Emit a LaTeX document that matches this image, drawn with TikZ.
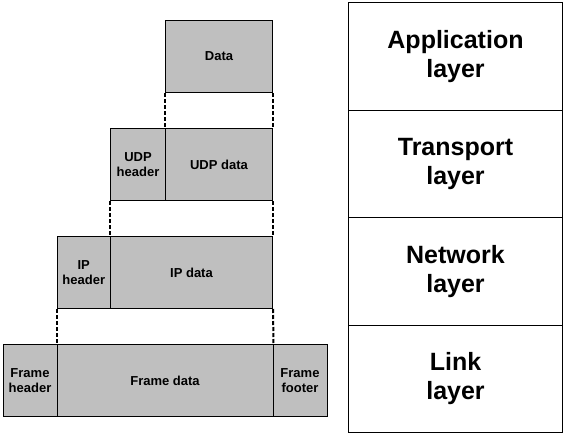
\documentclass[tikz,border=0pt]{standalone}
\usepackage{fontspec}
\setmainfont{Liberation Sans}
\begin{document}
\begin{tikzpicture}[x=1pt,y=-1pt,
  cell/.style={draw=black, line width=1pt, fill=gray!50!white, anchor=north west, inner sep=0pt,
    align=center, font=\fontsize{13}{14.5}\selectfont\bfseries},
  layerbox/.style={draw=black, line width=1pt, fill=white, anchor=north west, inner sep=0pt,
    minimum width=214pt, minimum height=107.5pt, align=center,
    font=\fontsize{25}{29}\selectfont\bfseries},
  guide/.style={line width=2pt, dash pattern=on 4pt off 2pt}
]
\useasboundingbox (0,0) rectangle (568,437);
% application data
\node[cell, minimum width=107pt, minimum height=72pt] (data) at (165,20) {Data};
% UDP
\node[cell, minimum width=55pt, minimum height=72pt] (udph) at (110,128) {UDP\\header};
\node[cell, minimum width=107pt, minimum height=72pt] (udpd) at (165,128) {UDP data};
% IP
\node[cell, minimum width=53.5pt, minimum height=72pt] (iph) at (56.5,236) {IP\\header};
\node[cell, minimum width=162pt, minimum height=72pt] (ipd) at (110,236) {IP data};
% Frame
\node[cell, minimum width=54pt, minimum height=72pt] (frh) at (2.5,344) {Frame\\header};
\node[cell, minimum width=216pt, minimum height=72pt] (frd) at (56.5,344) {Frame data};
\node[cell, minimum width=54pt, minimum height=72pt] (frf) at (272.5,344) {Frame\\footer};
% guides
\draw[guide] (data.south west) -- (udpd.north west);
\draw[guide] (data.south east) -- (udpd.north east);
\draw[guide] (udph.south west) -- (ipd.north west);
\draw[guide] (udpd.south east) -- (ipd.north east);
\draw[guide] (iph.south west) -- (frd.north west);
\draw[guide] (ipd.south east) -- (frd.north east);
% layers
\node[layerbox] (app) at (348,2) {Application\\layer};
\node[layerbox] (trans) at (348,109.5) {Transport\\layer};
\node[layerbox] (net) at (348,217) {Network\\layer};
\node[layerbox] (link) at (348,324.5) {Link\\layer};
\end{tikzpicture}
\end{document}
